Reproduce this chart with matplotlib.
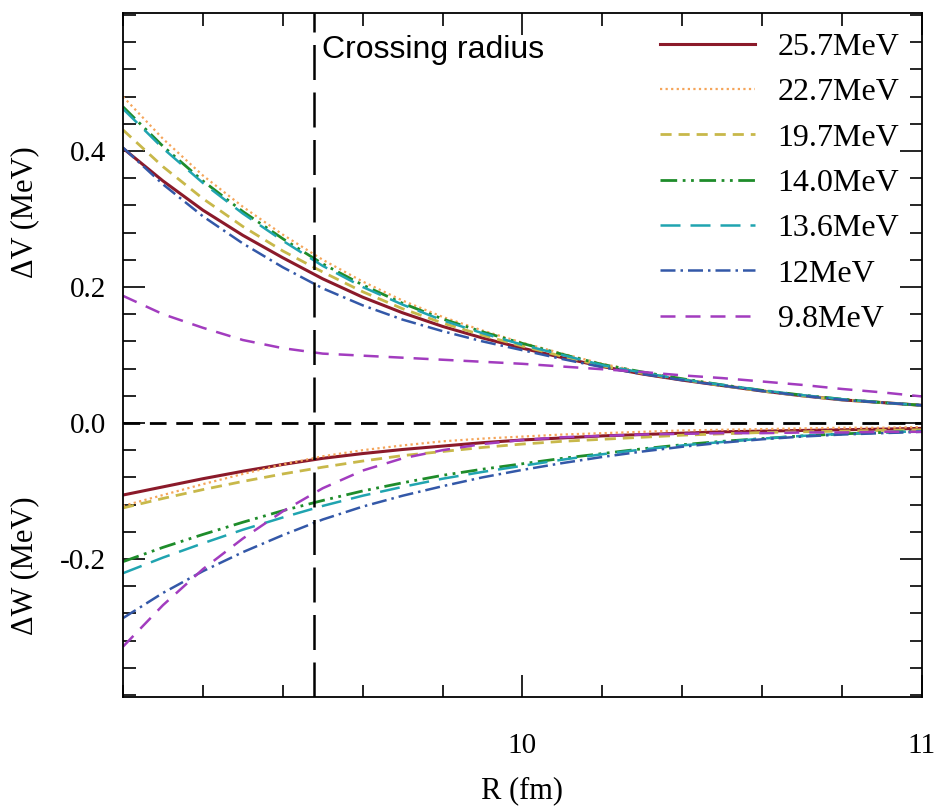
import matplotlib
matplotlib.use("Agg")
import matplotlib.pyplot as plt
import matplotlib.transforms as mtransforms
from matplotlib.ticker import MultipleLocator, FixedLocator

plt.rcParams['font.family'] = ['Liberation Serif', 'DejaVu Serif']

R = [9.0, 9.1, 9.2, 9.3, 9.4, 9.5, 9.6, 9.7, 9.8, 9.9, 10.0,
     10.1, 10.2, 10.3, 10.4, 10.5, 10.6, 10.7, 10.8, 10.9, 11.0]

labels = ['25.7MeV', '22.7MeV', '19.7MeV', '14.0MeV', '13.6MeV', '12MeV', '9.8MeV']

# real part dV
dV_257 = [0.404, 0.356, 0.313, 0.276, 0.243, 0.212, 0.185, 0.162, 0.142, 0.125, 0.110,
          0.096, 0.083, 0.072, 0.063, 0.055, 0.047, 0.040, 0.034, 0.030, 0.026]
dV_227 = [0.480, 0.418, 0.364, 0.318, 0.277, 0.240, 0.208, 0.180, 0.156, 0.136, 0.118,
          0.102, 0.087, 0.075, 0.065, 0.056, 0.048, 0.041, 0.035, 0.030, 0.026]
dV_197 = [0.431, 0.377, 0.330, 0.289, 0.253, 0.222, 0.193, 0.168, 0.147, 0.129, 0.113,
          0.098, 0.084, 0.073, 0.064, 0.055, 0.047, 0.040, 0.034, 0.030, 0.026]
dV_140 = [0.465, 0.407, 0.356, 0.311, 0.271, 0.234, 0.203, 0.176, 0.153, 0.134, 0.117,
          0.101, 0.086, 0.075, 0.065, 0.056, 0.048, 0.041, 0.035, 0.030, 0.026]
dV_136 = [0.462, 0.404, 0.353, 0.308, 0.268, 0.231, 0.200, 0.174, 0.151, 0.132, 0.115,
          0.100, 0.085, 0.074, 0.064, 0.056, 0.048, 0.041, 0.035, 0.030, 0.026]
dV_120 = [0.405, 0.351, 0.304, 0.264, 0.229, 0.198, 0.173, 0.152, 0.135, 0.120, 0.107,
          0.094, 0.082, 0.072, 0.063, 0.055, 0.047, 0.040, 0.034, 0.030, 0.026]
dV_98 = [0.187, 0.160, 0.140, 0.122, 0.110, 0.102, 0.099, 0.096, 0.093, 0.090, 0.087,
         0.083, 0.079, 0.075, 0.070, 0.066, 0.061, 0.056, 0.050, 0.045, 0.039]

# imaginary part dW
dW_257 = [-0.106, -0.094, -0.082, -0.071, -0.061, -0.052, -0.045, -0.039, -0.034, -0.029, -0.025,
          -0.022, -0.019, -0.017, -0.015, -0.013, -0.012, -0.011, -0.010, -0.009, -0.008]
dW_227 = [-0.122, -0.106, -0.090, -0.075, -0.061, -0.049, -0.040, -0.033, -0.027, -0.023, -0.020,
          -0.017, -0.015, -0.013, -0.011, -0.010, -0.009, -0.008, -0.007, -0.007, -0.006]
dW_197 = [-0.125, -0.111, -0.098, -0.086, -0.075, -0.065, -0.056, -0.048, -0.042, -0.036, -0.031,
          -0.027, -0.024, -0.021, -0.018, -0.016, -0.014, -0.013, -0.012, -0.011, -0.010]
dW_140 = [-0.204, -0.183, -0.164, -0.146, -0.129, -0.114, -0.100, -0.088, -0.077, -0.068, -0.060,
          -0.052, -0.045, -0.038, -0.032, -0.027, -0.023, -0.019, -0.016, -0.014, -0.012]
dW_136 = [-0.221, -0.198, -0.177, -0.157, -0.139, -0.122, -0.107, -0.094, -0.082, -0.072, -0.063,
          -0.054, -0.046, -0.039, -0.033, -0.028, -0.023, -0.019, -0.016, -0.014, -0.012]
dW_120 = [-0.287, -0.250, -0.218, -0.190, -0.165, -0.142, -0.123, -0.107, -0.093, -0.080, -0.069,
          -0.059, -0.050, -0.042, -0.035, -0.029, -0.024, -0.020, -0.017, -0.015, -0.013]
dW_98 = [-0.329, -0.268, -0.215, -0.170, -0.130, -0.096, -0.070, -0.052, -0.040, -0.031, -0.025,
         -0.021, -0.019, -0.017, -0.016, -0.015, -0.015, -0.014, -0.014, -0.013, -0.013]

R_cross = 9.478

dV = [dV_257, dV_227, dV_197, dV_140, dV_136, dV_120, dV_98]
dW = [dW_257, dW_227, dW_197, dW_140, dW_136, dW_120, dW_98]
colors = ['#8b1a2a', '#f5a55a', '#c8b84a', '#1e8c2a', '#20a4b0', '#3358a8', '#a23cbf']
styles = ['-', (0, (1, 1.5)), (0, (4, 2.5)), (0, (6, 2, 1, 2, 1, 2)),
          (0, (8, 4)), (0, (6, 2, 1, 2)), (0, (6, 4))]
widths = [2.2, 1.6, 2.0, 2.0, 1.8, 1.8, 1.8]

fig = plt.figure(figsize=(9.36, 8.11), dpi=100)
ax = fig.add_axes([0.1314, 0.1406, 0.8536, 0.8434])

for i in range(len(labels)):
    ax.plot(R, dV[i], color=colors[i], ls=styles[i], lw=widths[i], label=labels[i])
    ax.plot(R, dW[i], color=colors[i], ls=styles[i], lw=widths[i])

ax.axhline(0, color='black', ls=(0, (6, 3.5)), lw=2)
ax.axvline(R_cross, color='black', ls=(0, (14, 5)), lw=1.8)

ax.text(R_cross + 0.02, 0.548, 'Crossing radius', family='Liberation Sans',
        fontsize=23, va='center', ha='left')

ax.set_xlim(9.0, 11.0)
ax.set_ylim(-0.403, 0.603)
ax.xaxis.set_major_locator(FixedLocator([10, 11]))
ax.xaxis.set_minor_locator(MultipleLocator(0.2))
ax.yaxis.set_major_locator(FixedLocator([-0.2, 0.0, 0.2, 0.4]))
ax.yaxis.set_minor_locator(MultipleLocator(0.04))
ax.set_yticklabels(['-0.2', '0.0', '0.2', '0.4'])
ax.set_xticklabels(['10', '11'])
ax.tick_params(which='both', direction='in', top=True, right=True, labelsize=21, width=1.2)
ax.tick_params(which='major', length=16)
ax.tick_params(axis='y', which='major', pad=12)
ax.tick_params(axis='x', which='major', pad=26)
ax.tick_params(which='minor', length=9)
for s in ax.spines.values():
    s.set_linewidth(1.3)

ax.set_xlabel('R (fm)', fontsize=22, labelpad=12)
trans = mtransforms.blended_transform_factory(ax.transAxes, ax.transData)
ax.text(-0.123, 0.31, 'ΔV (MeV)', transform=trans, rotation=90, fontsize=22,
        ha='center', va='center')
ax.text(-0.123, -0.21, 'ΔW (MeV)', transform=trans, rotation=90, fontsize=22,
        ha='center', va='center')

ax.legend(loc='upper right', bbox_to_anchor=(1.0, 1.004), frameon=False, fontsize=23,
          handlelength=3.0, labelspacing=0.5, handletextpad=0.7, borderpad=0.2)

fig.savefig('out.png', dpi=100)
